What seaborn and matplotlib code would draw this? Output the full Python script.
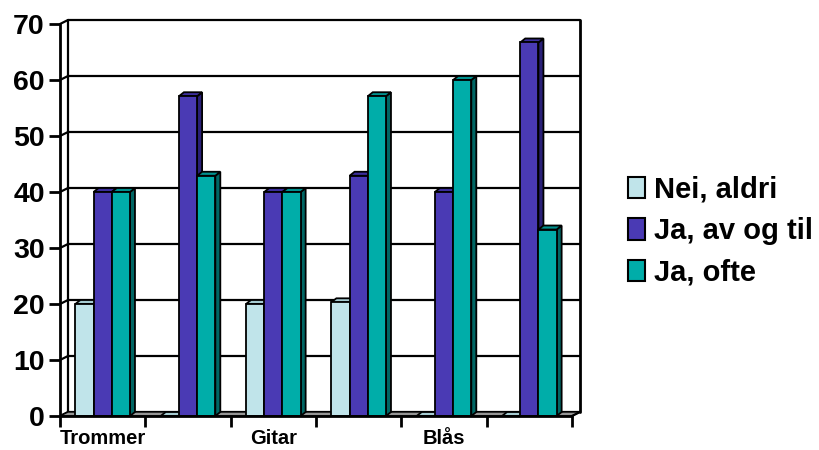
import numpy as np
import pandas as pd
import matplotlib
matplotlib.use("Agg")
import matplotlib.pyplot as plt
import seaborn as sns
from matplotlib.patches import Polygon, Rectangle
from matplotlib.lines import Line2D

# ---- data -------------------------------------------------------------
groups = ["Trommer", " ", "Gitar", "  ", "Blås", "   "]
series = ["Nei, aldri", "Ja, av og til", "Ja, ofte"]
nei_aldri = [20, 0, 20, 20.3, 0, 0]
ja_av_og_til = [40, 57.1, 40, 42.9, 40, 66.7]
ja_ofte = [40, 42.9, 40, 57.1, 60, 33.3]
y_ticks = [0, 10, 20, 30, 40, 50, 60, 70]

front_colors = ["#C0E4EA", "#4A3AB4", "#00ADA9"]
side_colors = ["#8DB4BA", "#2A2078", "#006664"]
top_colors = ["#A6CCD2", "#3C2E9C", "#00918E"]

df = pd.DataFrame({
    "group": groups * 3,
    "series": np.repeat(series, len(groups)),
    "value": nei_aldri + ja_av_og_til + ja_ofte,
})

# ---- figure -----------------------------------------------------------
sns.set_theme(style="white")
plt.rcParams["font.family"] = ["Liberation Sans", "DejaVu Sans"]
plt.rcParams["text.color"] = "black"
plt.rcParams["xtick.color"] = "black"
plt.rcParams["ytick.color"] = "black"

W, H, DPI = 820, 450, 100
fig = plt.figure(figsize=(W / DPI, H / DPI), dpi=DPI)
ax_l, ax_b, ax_w, ax_h = 60, 34, 512, 392          # plot box in pixels
ax = fig.add_axes([ax_l / W, ax_b / H, ax_w / W, ax_h / H])

n = len(groups)
ymax = 70
ax.set_xlim(-0.5, n - 0.5)
ax.set_ylim(0, ymax)
ux = n / ax_w                                       # data units per pixel
uy = ymax / ax_h

# depth of the back wall and of the columns, in pixels
wall_dx, wall_dy = 8, 4
bar_dx, bar_dy = 5, 4

x0, x1 = -0.5, n - 0.5
wx, wy = wall_dx * ux, wall_dy * uy

# back wall gridlines and frame
for t in y_ticks:
    ax.add_line(Line2D([x0 + wx, x1 + wx], [t + wy, t + wy], color="black",
                       lw=1.6, clip_on=False, zorder=1))
    ax.add_line(Line2D([x0, x0 + wx], [t, t + wy], color="black",
                       lw=1.6, clip_on=False, zorder=1))
ax.add_line(Line2D([x0 + wx, x0 + wx], [wy, ymax + wy], color="black",
                   lw=1.6, clip_on=False, zorder=1))
ax.add_line(Line2D([x1 + wx, x1 + wx], [wy, ymax + wy], color="black",
                   lw=2.0, clip_on=False, zorder=1))

# floor
ax.add_patch(Polygon([[x0, 0], [x1, 0], [x1 + wx, wy], [x0 + wx, wy]],
                     closed=True, facecolor="#969696", edgecolor="black",
                     lw=1.0, clip_on=False, zorder=2))

# ---- columns ----------------------------------------------------------
sns.barplot(data=df, x="group", y="value", hue="series", order=groups,
            hue_order=series, palette=front_colors, width=0.64,
            edgecolor="black", linewidth=1.3, saturation=1, errorbar=None,
            legend=False, ax=ax)

bx, by = bar_dx * ux, bar_dy * uy
bars = []
for k, cont in enumerate(ax.containers):
    for bar in cont.patches:
        bars.append((bar, k))
# draw left to right so each column hides the side of its left neighbour
bars.sort(key=lambda item: item[0].get_x())
for rank, (bar, k) in enumerate(bars):
    z = 3 + 0.01 * rank
    bar.set_zorder(z)
    x, w, h = bar.get_x(), bar.get_width(), bar.get_height()
    ax.add_patch(Polygon([[x + w, 0], [x + w + bx, by], [x + w + bx, h + by], [x + w, h]],
                         closed=True, facecolor=side_colors[k], edgecolor="black",
                         lw=1.3, zorder=z - 0.004, clip_on=False))
    ax.add_patch(Polygon([[x, h], [x + w, h], [x + w + bx, h + by], [x + bx, h + by]],
                         closed=True, facecolor=top_colors[k], edgecolor="black",
                         lw=1.3, zorder=z - 0.003, clip_on=False))

# ---- axes -------------------------------------------------------------
for s in ax.spines.values():
    s.set_visible(False)
ax.add_line(Line2D([x0, x0], [0, ymax], color="black", lw=2.0,
                   clip_on=False, zorder=10))
ax.add_line(Line2D([x0, x1], [0, 0], color="black", lw=2.0,
                   clip_on=False, zorder=10))
ax.add_line(Line2D([x1, x1 + wx], [0, wy], color="black", lw=1.6,
                   clip_on=False, zorder=10))

ax.set_yticks(y_ticks)
ax.set_yticklabels([str(t) for t in y_ticks], fontsize=20.5, fontweight="bold")
ax.tick_params(axis="y", length=8, width=2.0, pad=3, left=True,
               color="black", labelcolor="black")
ax.set_xticks(np.arange(-0.5, n, 1.0))
ax.set_xticklabels([])
ax.tick_params(axis="x", length=8, width=2.0, bottom=True, color="black")
ax.set_xticks(np.arange(n), minor=True)
ax.set_xticklabels(groups, minor=True, fontsize=14.5, fontweight="bold")
ax.tick_params(axis="x", which="minor", length=0, pad=9.5, labelcolor="black")
ax.set_xlabel("")
ax.set_ylabel("")
ax.grid(False)

# ---- legend -----------------------------------------------------------
handles = [Rectangle((0, 0), 1, 1, facecolor=c, edgecolor="black", lw=1.5)
           for c in front_colors]
fig.legend(handles, series, loc="center left", bbox_to_anchor=(628 / W, 1 - 231 / H),
           frameon=False, prop={"size": 21, "weight": "bold"},
           handlelength=0.6, handleheight=0.75, handletextpad=0.3,
           labelspacing=0.46, borderaxespad=0, borderpad=0, labelcolor="black")

fig.savefig("out.png", dpi=DPI)
